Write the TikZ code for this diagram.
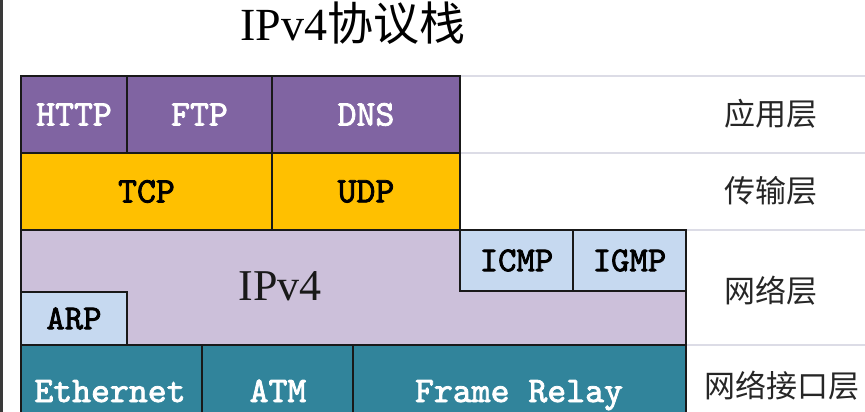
\documentclass[tikz,border=0pt]{standalone}
\usepackage{fontspec}
\setmainfont{Liberation Serif}
\newfontfamily\cjk{Noto Sans CJK SC}
\newfontfamily\monof{lmmono10-regular}[Extension=.otf, FakeBold=2.2]
\definecolor{apppurple}{HTML}{8064A2}
\definecolor{tporange}{HTML}{FFC000}
\definecolor{netlav}{HTML}{CCC0DA}
\definecolor{lblue}{HTML}{C6D9F0}
\definecolor{teal}{HTML}{31849B}
\definecolor{sepline}{HTML}{DCDCE6}
\definecolor{edgegray}{HTML}{3A3A3A}
\tikzset{
  cell/.style={draw=black!90, line width=1.2pt, anchor=north west, inner sep=0pt, outer sep=0pt,
    font=\monof\fontsize{36}{36}\selectfont},
  smallcell/.style={cell, font=\monof\fontsize{35}{35}\selectfont},
  linktext/.style={font=\monof\fontsize{36}{36}\selectfont, text=white, anchor=base, inner sep=0pt},
  layerlabel/.style={font=\cjk\fontsize{31}{31}\selectfont, text=black!85, anchor=base},
  sep/.style={draw=sepline, line width=1.5pt}
}
\begin{document}
\begin{tikzpicture}[x=1pt,y=-1pt]
\useasboundingbox (0,0) rectangle (865,412);
\clip (0,0) rectangle (865,412);
\fill[white] (0,0) rectangle (865,412);
% left edge
\draw[edgegray, line width=2.6pt] (1.3,0) -- (1.3,412);
% title
\node[anchor=base, inner sep=0pt] (title) at (353,41) {\fontsize{46}{46}\selectfont IPv4{\cjk 协议栈}};
% right separator lines
\coordinate (s1a) at (460,76); \coordinate (s1b) at (865,76);
\coordinate (s2a) at (460,153); \coordinate (s2b) at (865,153);
\coordinate (s3a) at (460,230); \coordinate (s3b) at (865,230);
\coordinate (s4a) at (686,345); \coordinate (s4b) at (865,345);
\draw[sep] (s1a) -- (s1b);
\draw[sep] (s2a) -- (s2b);
\draw[sep] (s3a) -- (s3b);
\draw[sep] (s4a) -- (s4b);
% application layer
\node[cell, fill=apppurple, text=white, minimum width=106pt, minimum height=77pt] (http) at (21,76) {HTTP};
\node[cell, fill=apppurple, text=white, minimum width=145pt, minimum height=77pt] (ftp) at (127,76) {FTP};
\node[cell, fill=apppurple, text=white, minimum width=188pt, minimum height=77pt] (dns) at (272,76) {DNS};
% transport layer
\node[cell, fill=tporange, text=black, minimum width=251pt, minimum height=77pt] (tcp) at (21,153) {TCP};
\node[cell, fill=tporange, text=black, minimum width=188pt, minimum height=77pt] (udp) at (272,153) {UDP};
% network layer
\node[cell, fill=netlav, minimum width=665pt, minimum height=115pt] (ipbox) at (21,230) {};
\node[font=\fontsize{44}{44}\selectfont, text=black!90, anchor=base, inner sep=0pt] (ipv4) at (280,300) {IPv4};
\node[smallcell, fill=lblue, text=black, minimum width=113pt, minimum height=61pt] (icmp) at (460,230) {ICMP};
\node[smallcell, fill=lblue, text=black, minimum width=113pt, minimum height=61pt] (igmp) at (573,230) {IGMP};
\node[smallcell, fill=lblue, text=black, minimum width=106pt, minimum height=53pt] (arp) at (21,292) {ARP};
% link layer
\node[cell, fill=teal, minimum width=181pt, minimum height=80pt] (eth) at (21,345) {};
\node[cell, fill=teal, minimum width=151pt, minimum height=80pt] (atm) at (202,345) {};
\node[cell, fill=teal, minimum width=333pt, minimum height=80pt] (fr) at (353,345) {};
\node[linktext] (ethl) at (110,402) {Ethernet};
\node[linktext] (atml) at (278,402) {ATM};
\node[linktext] (frl) at (519,402) {Frame Relay};
% layer labels
\node[layerlabel] (l1) at (771,125) {应用层};
\node[layerlabel] (l2) at (771,202) {传输层};
\node[layerlabel] (l3) at (771,302) {网络层};
\node[layerlabel] (l4) at (782,397) {网络接口层};
\end{tikzpicture}
\end{document}
